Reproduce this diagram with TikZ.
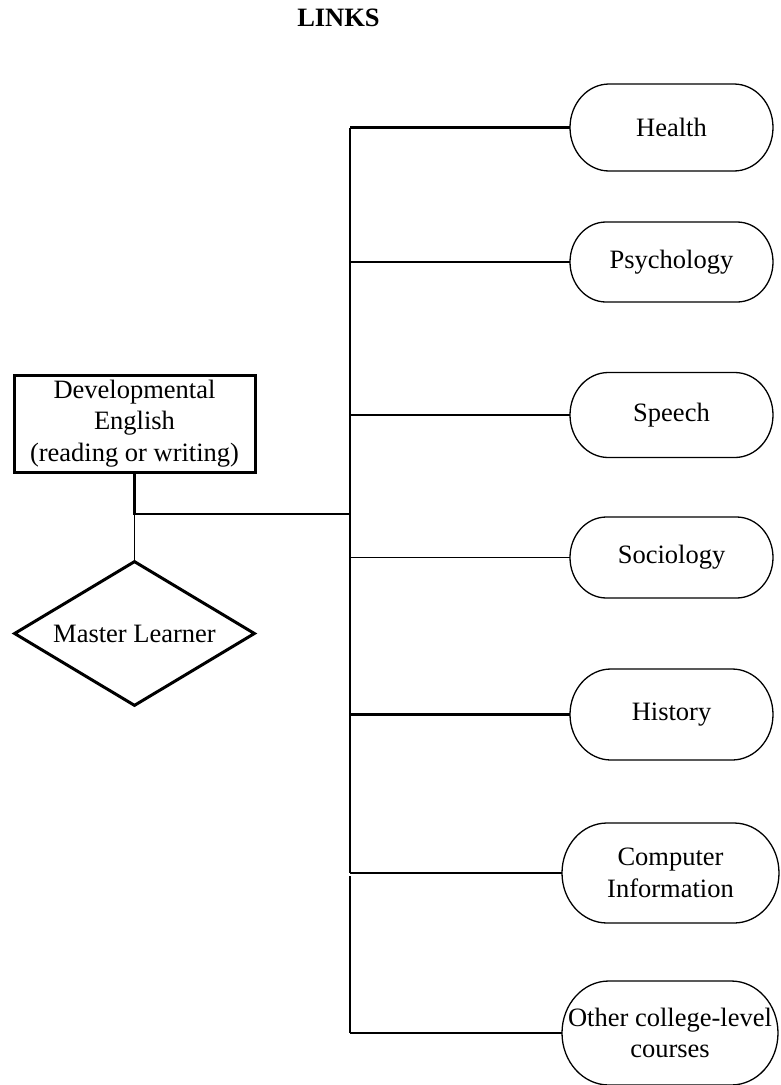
\documentclass[tikz,border=0pt]{standalone}
\usepackage{fontspec}
\setmainfont{Liberation Serif}
\usetikzlibrary{calc,shapes.geometric}
\tikzset{
  txt/.style={font=\fontsize{26.5pt}{31.5pt}\selectfont, align=center, inner sep=0pt, outer sep=0pt},
  pilltext/.style={txt, rectangle},
  pillline/.style={line width=1.3pt, black},
  conn/.style={line width=2.2pt, black},
  thinconn/.style={line width=1.1pt, black},
  boxline/.style={line width=3pt, black},
}
\newcommand\pill[6]{%
  \node[pilltext, minimum width=#4pt, minimum height=#5pt] (#1) at (#2,#3) {#6};
  \pgfmathsetmacro\pillrx{0.45*#5}
  \draw[pillline] ($(#1.north west)+(\pillrx pt,0pt)$) -- ($(#1.north east)+(-\pillrx pt,0pt)$)
    arc[start angle=90,end angle=-90,x radius=\pillrx pt,y radius=#5pt/2]
    -- ($(#1.south west)+(\pillrx pt,0pt)$)
    arc[start angle=270,end angle=90,x radius=\pillrx pt,y radius=#5pt/2] -- cycle;
}
\begin{document}
\begin{tikzpicture}[x=1pt,y=-1pt]
\useasboundingbox (0,0) rectangle (780,1085);
\node[txt, font=\fontsize{26.5pt}{31.5pt}\selectfont\bfseries] (title) at (338.5,18) {LINKS};

\node[txt, draw, boxline, minimum width=241pt, minimum height=97pt] (dev) at (134.5,423.5)
  {Developmental\\English\\(reading or writing)};
\node[diamond, draw, boxline, minimum width=241pt, minimum height=145pt, inner sep=0pt] (ml) at (134.5,633.5) {};
\node[txt] (mltext) at (ml.center) {Master Learner};

\pill{health}{671.5}{127.5}{203}{87}{Health}
\pill{psych}{671.5}{262}{203}{80}{Psychology}
\pill{speech}{671.5}{415}{203}{85}{Speech}
\pill{socio}{671.5}{557.5}{203}{81}{Sociology}
\pill{hist}{671.5}{714.5}{203}{91}{History}
\pill{comp}{670.5}{873}{217}{100}{Computer\\Information}
\pill{other}{670}{1033}{216}{104}{Other college-level\\courses}

\coordinate (j) at (134.5,514);
\coordinate (tj) at (350,514);
\coordinate (tb1) at (350,603);
\coordinate (tb2) at (350,876);

\draw[conn] (dev.south) -- (j) -- (tj);
\draw[thinconn] (j) -- (ml.north);

\draw[conn] (health.west -| tj) -- (socio.west -| tj);
\draw[thinconn] (socio.west -| tj) -- (tb1);
\draw[conn] (tb1) -- (comp.west -| tj);
\draw[conn] (tb2) -- (other.west -| tj);

\draw[conn] (health.west -| tj) -- (health.west);
\draw[conn] (psych.west -| tj) -- (psych.west);
\draw[conn] (speech.west -| tj) -- (speech.west);
\draw[thinconn] (socio.west -| tj) -- (socio.west);
\draw[conn] (hist.west -| tj) -- (hist.west);
\draw[conn] (comp.west -| tj) -- (comp.west);
\draw[conn] (other.west -| tj) -- (other.west);
\end{tikzpicture}
\end{document}
